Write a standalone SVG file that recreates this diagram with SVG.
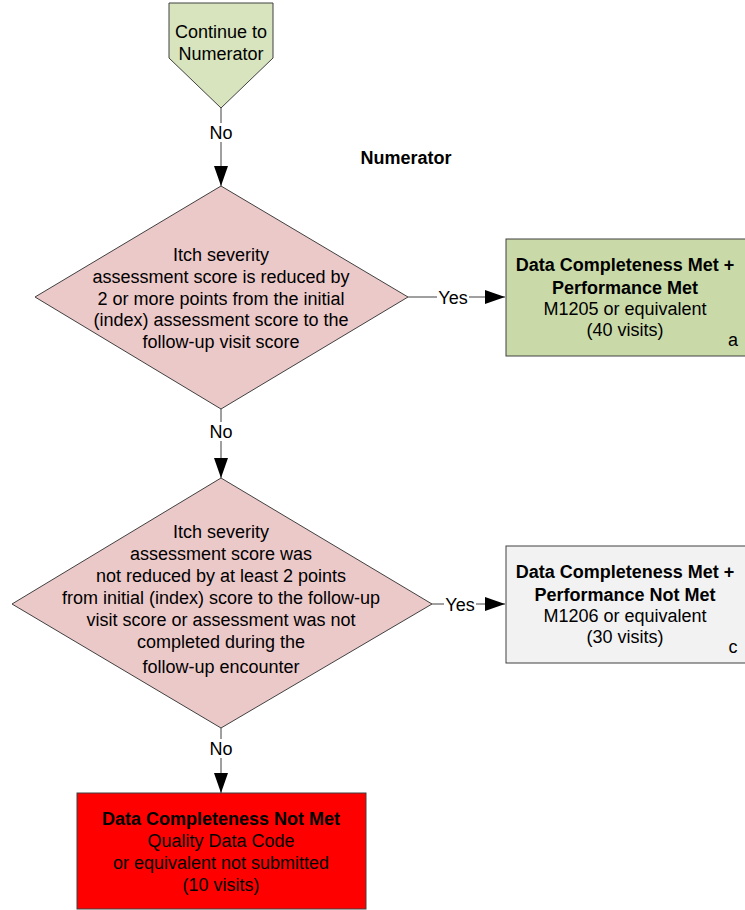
<svg xmlns="http://www.w3.org/2000/svg" width="745" height="910" viewBox="0 0 745 910">
<style>
text{font-family:"Liberation Sans",Arial,sans-serif;font-size:18px;fill:#000;text-anchor:middle}
.b{font-weight:bold}
.shape{stroke:#404040;stroke-width:1}
.conn{stroke:#404040;stroke-width:1;fill:none}
.lbl{fill:#fff}
</style>
<defs>
<marker id="arr" markerWidth="20" markerHeight="14" refX="20" refY="7" orient="auto" markerUnits="userSpaceOnUse">
<path d="M0,0 L20,7 L0,14 Z" fill="#000"/>
</marker>
</defs>
<rect width="745" height="910" fill="#fff"/>
<g id="connectors">
<line class="conn" x1="221" y1="108" x2="221" y2="186" marker-end="url(#arr)"/>
<rect class="lbl" x="207" y="123" width="28" height="19"/>
<text x="221" y="139">No</text>
<line class="conn" x1="408" y1="297" x2="505" y2="297" marker-end="url(#arr)"/>
<rect class="lbl" x="437" y="288" width="32" height="19"/>
<text x="453" y="304">Yes</text>
<line class="conn" x1="221" y1="409" x2="221" y2="478" marker-end="url(#arr)"/>
<rect class="lbl" x="207" y="422" width="28" height="19"/>
<text x="221" y="438">No</text>
<line class="conn" x1="432" y1="604" x2="505" y2="604" marker-end="url(#arr)"/>
<rect class="lbl" x="444" y="595" width="32" height="19"/>
<text x="460" y="611">Yes</text>
<line class="conn" x1="221" y1="728" x2="221" y2="793" marker-end="url(#arr)"/>
<rect class="lbl" x="207" y="739" width="28" height="19"/>
<text x="221" y="755">No</text>
</g>
<g id="start">
<path class="shape" d="M169,3 L273,3 L273,58 L221,108 L169,58 Z" fill="#d7e4bd"/>
<text x="221" y="38">Continue to</text>
<text x="221" y="60">Numerator</text>
</g>
<g id="title">
<text class="b" x="406" y="164">Numerator</text>
</g>
<g id="decision1">
<path class="shape" d="M221,186 L408,297 L221,409 L35,297 Z" fill="#ecc9c9"/>
<text x="221" y="261">Itch severity</text>
<text x="221" y="283">assessment score is reduced by</text>
<text x="221" y="305">2 or more points from the initial</text>
<text x="221" y="326">(index) assessment score to the</text>
<text x="221" y="348">follow-up visit score</text>
</g>
<g id="resultA">
<rect class="shape" x="506" y="239" width="242" height="117" fill="#c9daa8"/>
<text class="b" x="625" y="271">Data Completeness Met +</text>
<text class="b" x="625" y="294">Performance Met</text>
<text x="625" y="315">M1205 or equivalent</text>
<text x="625" y="336">(40 visits)</text>
<text x="733" y="346">a</text>
</g>
<g id="decision2">
<path class="shape" d="M221,478 L432,604 L221,728 L12,604 Z" fill="#ecc9c9"/>
<text x="221" y="538">Itch severity</text>
<text x="221" y="560">assessment score was</text>
<text x="221" y="582">not reduced by at least 2 points</text>
<text x="221" y="604">from initial (index) score to the follow-up</text>
<text x="221" y="626">visit score or assessment was not</text>
<text x="221" y="648">completed during the</text>
<text x="221" y="673">follow-up encounter</text>
</g>
<g id="resultC">
<rect class="shape" x="506" y="546" width="242" height="117" fill="#f2f2f2"/>
<text class="b" x="625" y="578">Data Completeness Met +</text>
<text class="b" x="625" y="601">Performance Not Met</text>
<text x="625" y="622">M1206 or equivalent</text>
<text x="625" y="643">(30 visits)</text>
<text x="733" y="653">c</text>
</g>
<g id="resultNotMet">
<rect class="shape" x="77" y="793" width="289" height="116" fill="#ff0000"/>
<text class="b" x="221" y="825">Data Completeness Not Met</text>
<text x="221" y="847">Quality Data Code</text>
<text x="221" y="869">or equivalent not submitted</text>
<text x="221" y="891">(10 visits)</text>
</g>
</svg>
